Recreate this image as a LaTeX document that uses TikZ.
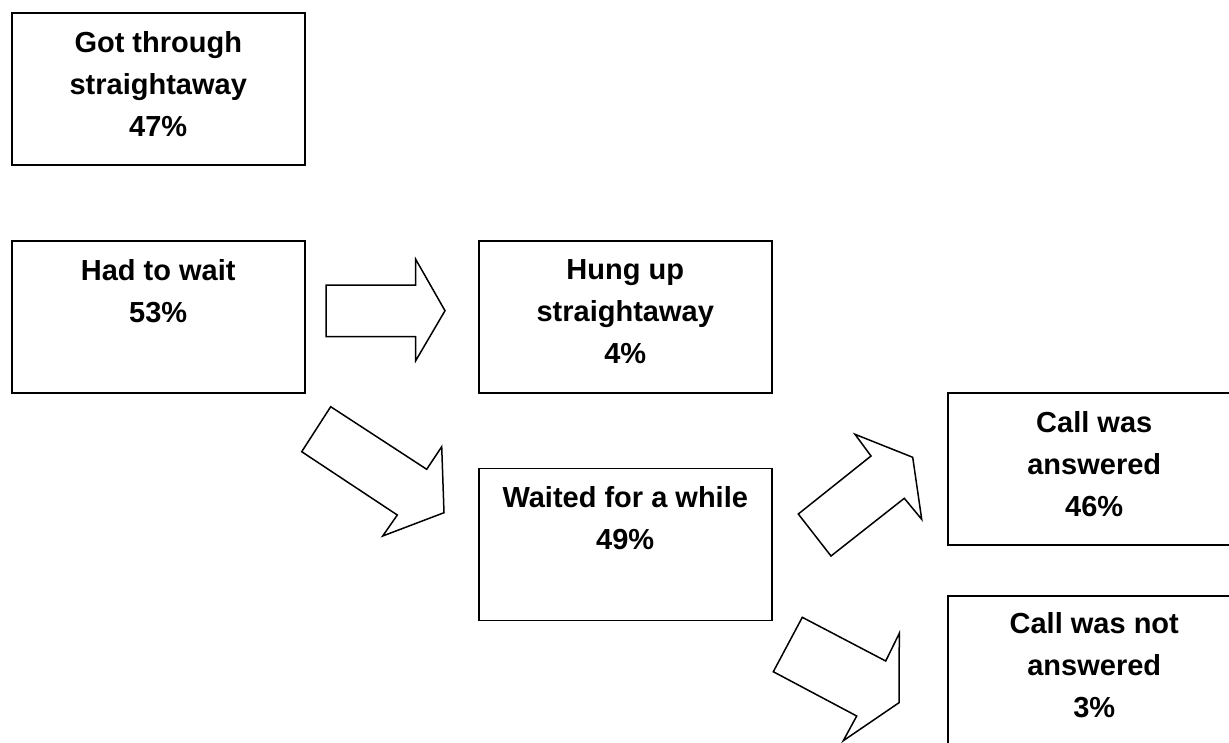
\documentclass[tikz,border=0pt]{standalone}
\usepackage{fontspec}
\setmainfont{Liberation Sans}
\begin{document}
\begin{tikzpicture}[x=1pt,y=-1pt,
  box/.style={draw, line width=1.5pt, minimum width=293pt, minimum height=152pt, anchor=north west, inner sep=0pt},
  lbl/.style={anchor=north, align=center, inner sep=0pt, font=\fontsize{29}{42}\selectfont\bfseries},
  block/.style={draw, line width=1.5pt, line join=miter, fill=white}]
\useasboundingbox (0,0) rectangle (1229,742);
\clip (0,0) rectangle (1229,742);
% boxes
\node[box] (b1) at (11,12) {};
\node[box] (b2) at (11,240) {};
\node[box] (b3) at (478,240) {};
\node[box] (b4) at (478,467.5) {};
\node[box] (b5) at (947,392) {};
\node[box] (b6) at (947,595) {};
% labels
\node[lbl] (t1) at ([yshift=-19pt]b1.north) {Got through\\straightaway\\47\%};
\node[lbl] (t2) at ([yshift=-19pt]b2.north) {Had to wait\\53\%};
\node[lbl] (t3) at ([yshift=-19pt]b3.north) {Hung up\\straightaway\\4\%};
\node[lbl] (t4) at ([yshift=-19pt]b4.north) {Waited for a while\\49\%};
\node[lbl] (t5) at ([yshift=-19pt]b5.north) {Call was\\answered\\46\%};
\node[lbl] (t6) at ([yshift=-17pt]b6.north) {Call was not\\answered\\3\%};
% block arrows
\draw[block] (326,285) -- (415.7,285) -- (415.7,259.3) -- (445,310.7) -- (415.7,360.7) -- (415.7,336.7) -- (326,336.7) -- cycle;
\draw[block] (330.7,406.7) -- (426.7,469.3) -- (441.7,446.7) -- (444,512.7) -- (382.7,536) -- (397.3,515) -- (301.7,451.7) -- cycle;
\draw[block] (798.3,514) -- (871,456) -- (855,434.3) -- (912.7,457.3) -- (921.7,519.3) -- (904.3,498.3) -- (831,556) -- cycle;
\draw[block] (802.3,617.3) -- (885.7,661) -- (899.3,633.3) -- (899,702.7) -- (843.3,740.7) -- (856.7,716) -- (773.3,671.7) -- cycle;
\end{tikzpicture}
\end{document}
